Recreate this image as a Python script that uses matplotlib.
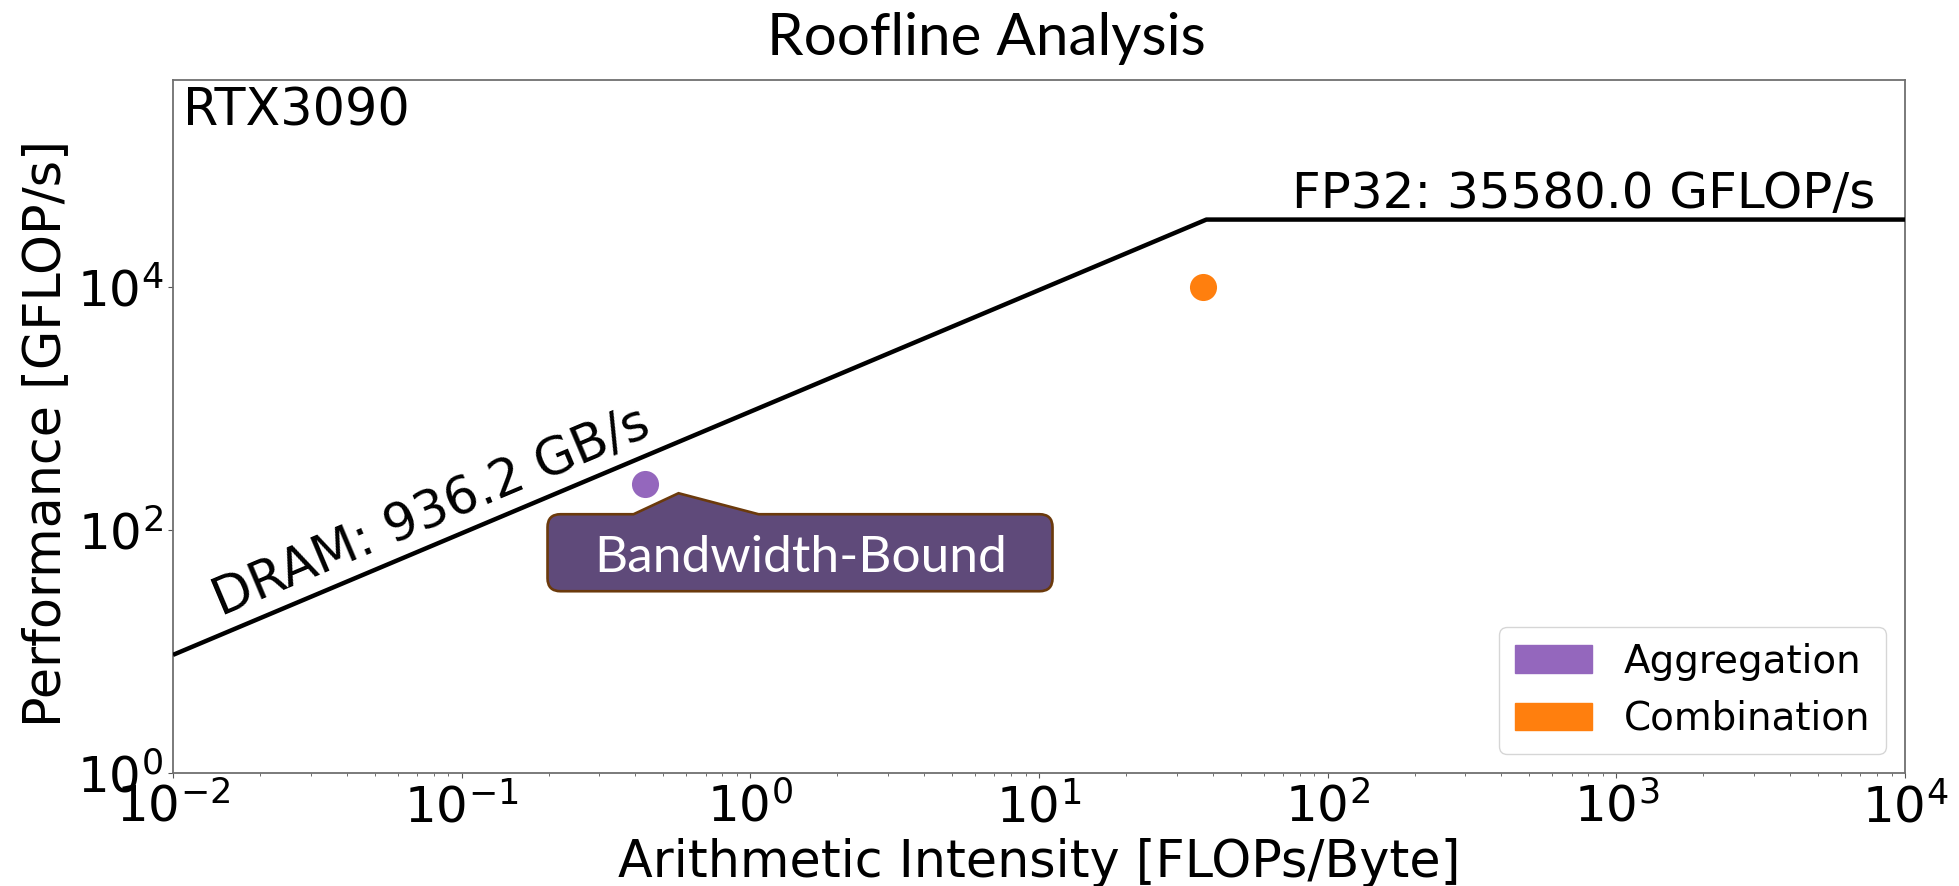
import numpy as np
import matplotlib
matplotlib.use("Agg")
import matplotlib.pyplot as plt
from matplotlib.patches import Patch, PathPatch
from matplotlib.path import Path
from matplotlib.transforms import IdentityTransform, blended_transform_factory
from matplotlib.ticker import LogFormatterSciNotation, NullLocator, LogLocator

# ---------------- data ----------------
device = "RTX3090"
peak_gflops = 35580.0          # FP32 GFLOP/s
dram_bw = 936.2                # GB/s
kernels = ["Aggregation", "Combination"]
kernel_ai = [0.43, 36.9]       # FLOPs/Byte
kernel_perf = [237.0, 10000.0] # GFLOP/s
kernel_colors = ["#9467bd", "#ff7f0e"]
x_range = [1e-2, 1e4]
y_range = [1e0, 5e5]
y_ticks = [1e0, 1e2, 1e4]
title = "Roofline Analysis"
callout_text = "Bandwidth-Bound"

# ---------------- figure ----------------
W, H = 1959, 886
fig = plt.figure(figsize=(W / 100, H / 100), dpi=100)
ax = fig.add_axes([173 / W, 1 - 773 / H, (1905 - 173) / W, (773 - 80) / H])
ax.set_xscale("log")
ax.set_yscale("log")
ax.set_xlim(*x_range)
ax.set_ylim(*y_range)
for s in ax.spines.values():
    s.set_color("#707070")
    s.set_linewidth(1.3)

# roofline
ridge = peak_gflops / dram_bw
rx = [x_range[0], ridge, x_range[1]]
ry = [dram_bw * x_range[0], peak_gflops, peak_gflops]
ax.plot(rx, ry, color="black", lw=3.2, solid_capstyle="butt", zorder=3)

# kernels
for a, p, c in zip(kernel_ai, kernel_perf, kernel_colors):
    ax.plot([a], [p], "o", color=c, markersize=19.5, markeredgewidth=0, zorder=4)

# ticks
ax.set_yticks(y_ticks)
ax.yaxis.set_major_formatter(LogFormatterSciNotation())
ax.yaxis.set_minor_locator(NullLocator())
ax.xaxis.set_major_locator(LogLocator(base=10, numticks=20))
ax.xaxis.set_minor_locator(LogLocator(base=10, subs=np.arange(2, 10), numticks=20))
ax.tick_params(axis="both", which="major", labelsize=36, color="#555555")
ax.tick_params(axis="both", which="minor", color="#555555")

# labels
ax.set_xlabel("Arithmetic Intensity [FLOPs/Byte]", fontsize=36.5, va="baseline")
ax.xaxis.set_label_coords(0.5, (773 - 877) / 693)
ax.set_ylabel("Performance [GFLOP/s]", fontsize=36.5, va="baseline")
ax.yaxis.set_label_coords((60 - 173) / 1732, 0.49)

# device name
ax.text((183 - 173) / 1732, (773 - 125) / 693, device, transform=ax.transAxes,
        fontsize=36.5, ha="left", va="baseline")

# roof labels
p0 = ax.transData.transform((rx[0], ry[0]))
p1 = ax.transData.transform((rx[1], ry[1]))
ang = np.degrees(np.arctan2(p1[1] - p0[1], p1[0] - p0[0]))
x_txt = 0.0147
ax.text(x_txt, dram_bw * x_txt * 1.39, f"DRAM: {dram_bw} GB/s", fontsize=37,
        rotation=ang, rotation_mode="anchor", ha="left", va="baseline")
bt = blended_transform_factory(ax.transAxes, ax.transData)
ax.text(0.983, peak_gflops * 1.25, f"FP32: {peak_gflops} GFLOP/s", transform=bt,
        fontsize=36, ha="right", va="baseline")

# legend
handles = [Patch(color=c, label=k) for k, c in zip(kernels, kernel_colors)]
ax.legend(handles=handles, loc="lower right", fontsize=28)

# callout anchored near the Aggregation point (pixel offsets)
px, py = ax.transData.transform((kernel_ai[0], kernel_perf[0]))
L, R = px - 97, px + 408
T, B = py - 30, py - 107
bl, br = px - 11, px + 114
tipx, tipy = px + 34, py - 9
r = 13
verts = [(L + r, T), (bl, T), (tipx, tipy), (br, T), (R - r, T),
         (R, T), (R, T - r),
         (R, B + r),
         (R, B), (R - r, B),
         (L + r, B),
         (L, B), (L, B + r),
         (L, T - r),
         (L, T), (L + r, T),
         (L + r, T)]
codes = [Path.MOVETO, Path.LINETO, Path.LINETO, Path.LINETO, Path.LINETO,
         Path.CURVE3, Path.CURVE3,
         Path.LINETO,
         Path.CURVE3, Path.CURVE3,
         Path.LINETO,
         Path.CURVE3, Path.CURVE3,
         Path.LINETO,
         Path.CURVE3, Path.CURVE3,
         Path.CLOSEPOLY]
callout = PathPatch(Path(verts, codes), facecolor="#5f4a7a", edgecolor="#6b3a0c",
                    lw=1.9, transform=IdentityTransform(), zorder=10)
fig.patches.append(callout)
callout.set_figure(fig)
fig.text(px + 156, py - 87.5, callout_text, transform=IdentityTransform(),
         fontsize=37, family="Lato", color="white", ha="center", va="baseline", zorder=11)

# title
fig.text(986 / W, 1 - 55 / H, title, fontsize=42, family="Lato",
         ha="center", va="baseline")

fig.savefig("out.png", dpi=100)
